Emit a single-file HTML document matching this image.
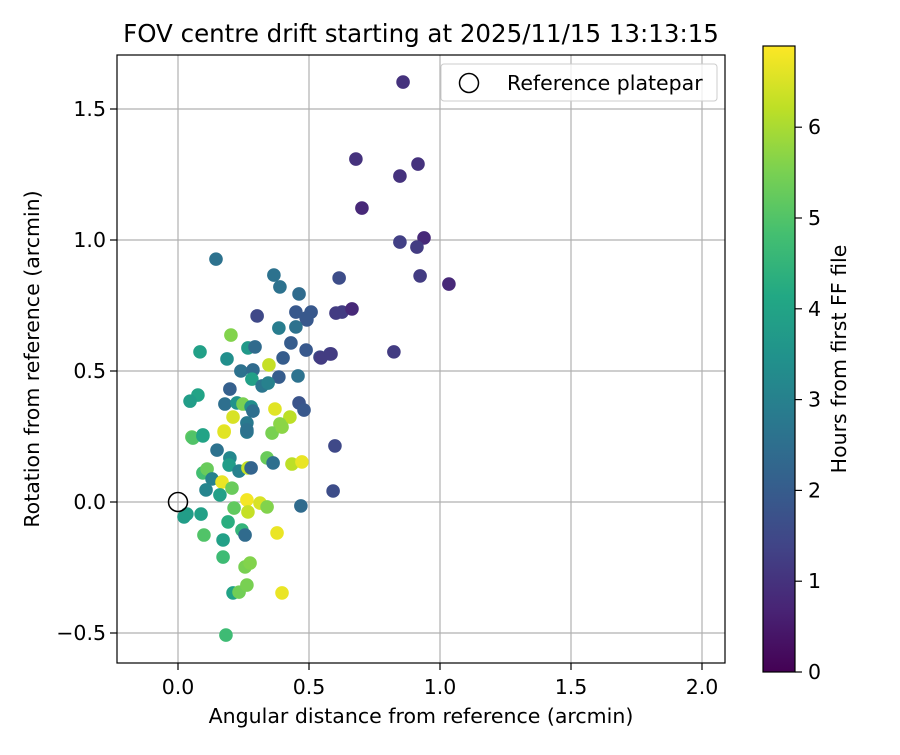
<!DOCTYPE html>
<html><head><meta charset="utf-8"><style>
body{margin:0;background:#fff;}
svg text{font-family:"DejaVu Sans","Liberation Sans",sans-serif;fill:#000;}
</style></head><body>
<svg id="chart" width="900" height="750" xmlns="http://www.w3.org/2000/svg">
<defs>
<linearGradient id="vir" x1="0" y1="1" x2="0" y2="0">
<stop offset="0" stop-color="#440154"/><stop offset="0.1" stop-color="#482475"/><stop offset="0.2" stop-color="#414487"/><stop offset="0.3" stop-color="#355f8d"/><stop offset="0.4" stop-color="#2a788e"/><stop offset="0.5" stop-color="#21918c"/><stop offset="0.6" stop-color="#22a884"/><stop offset="0.7" stop-color="#44bf70"/><stop offset="0.8" stop-color="#7ad151"/><stop offset="0.9" stop-color="#bddf26"/><stop offset="1" stop-color="#fde725"/>
</linearGradient>
<clipPath id="clip"><rect x="117" y="55" width="608" height="608"/></clipPath>
</defs>
<g id="grid"></g>
<g id="points" clip-path="url(#clip)"></g>
<rect x="117" y="55" width="608" height="608" fill="none" stroke="#000" stroke-width="1.2"/>
<g id="ticks"></g>
<text x="421" y="42" font-size="24.5" text-anchor="middle">FOV centre drift starting at 2025/11/15 13:13:15</text>
<text x="421" y="723" font-size="20.5" text-anchor="middle">Angular distance from reference (arcmin)</text>
<text transform="translate(39,359) rotate(-90)" font-size="20.5" text-anchor="middle">Rotation from reference (arcmin)</text>
<g>
<rect x="441" y="64" width="276" height="37" rx="3" fill="#fff" fill-opacity="0.8" stroke="#ccc"/>
<circle cx="469" cy="83" r="9.5" fill="none" stroke="#000" stroke-width="1.5"/>
<text x="507" y="90" font-size="20.5">Reference platepar</text>
</g>
<rect x="763" y="46" width="32" height="626" fill="url(#vir)" stroke="#000" stroke-width="1.2"/>
<g id="cbticks"></g>
<text transform="translate(846,359) rotate(-90)" font-size="20.5" text-anchor="middle">Hours from first FF file</text>
</svg>
<script>
// data: [angular distance, rotation, hours]
const px=[403,356,418,400,362,424,400,417,420,449,339,342,352,336,306,330,320,394,335,333,216,274,280,299,257,296,311,307,279,296,231,200,248,255,291,306,321,331,227,283,269,241,253,279,298,252,262,268,230,198,190,225,237,243,251,253,275,299,304,233,290,280,247,247,224,272,203,192,193,203,224,247,282,217,230,229,239,248,251,267,273,292,302,203,207,212,222,232,206,220,247,260,267,234,248,301,184,187,201,204,228,242,245,223,277,223,245,250,233,239,247,282,226];
const py=[82,159,164,176,208,238,242,247,276,284,278,312,309,313,318,354,357,352,446,491,259,275,287,294,316,312,312,320,328,327,335,352,348,347,343,350,358,354,359,358,365,371,370,377,376,379,386,383,389,395,401,404,403,404,407,411,409,403,410,417,417,424,423,432,431,433,435,437,438,436,432,430,427,450,458,465,471,468,468,458,463,464,462,473,469,479,482,488,490,495,500,503,507,508,512,506,517,514,514,535,522,530,535,540,533,557,567,563,593,592,585,593,635];
const hours=[1.0,1.0,1.0,1.0,0.8,0.8,1.3,1.2,1.2,0.8,1.6,1.2,0.8,1.2,1.9,1.4,1.6,1.2,1.5,1.6,2.6,2.6,2.6,2.4,1.5,1.9,1.9,1.9,2.9,2.6,5.6,3.9,3.7,2.4,2.0,1.9,1.2,1.2,3.4,2.0,6.3,2.6,2.4,2.0,2.6,3.9,2.7,3.0,2.1,4.0,3.8,2.5,3.5,5.5,3.4,2.5,6.6,1.8,1.9,6.5,6.2,5.7,2.8,2.8,6.7,5.5,4.0,5.2,5.0,4.0,6.6,2.6,5.7,2.6,3.2,3.8,3.0,6.3,2.2,5.3,2.5,6.2,6.7,4.8,5.3,3.0,6.7,5.3,3.1,3.9,6.8,6.5,5.6,5.2,6.3,2.4,3.8,3.8,3.9,5.0,4.3,4.5,2.4,3.9,6.7,4.7,5.5,5.6,4.0,5.4,5.5,6.7,4.7];
const xs=px.map(v=>+((v-178)/262).toFixed(3));
const ys=py.map(v=>+((502-v)/262).toFixed(3));
const xTicks=[0,0.5,1,1.5,2];
const xTickLabels=["0.0","0.5","1.0","1.5","2.0"];
const yTicks=[-0.5,0,0.5,1,1.5];
const yTickLabels=["\u22120.5","0.0","0.5","1.0","1.5"];
const cTicks=[0,1,2,3,4,5,6];
const NS="http://www.w3.org/2000/svg";
const X=v=>178+v*262, Y=v=>502-v*262, C=h=>672-h*90.8, HMAX=6.9;
const stops=[[68,1,84],[72,36,117],[65,68,135],[53,95,141],[42,120,142],[33,145,140],[34,168,132],[68,191,112],[122,209,81],[189,223,38],[253,231,37]];
function vir(t){t=Math.max(0,Math.min(1,t))*10;const i=Math.min(9,Math.floor(t)),f=t-i,a=stops[i],b=stops[i+1];return `rgb(${a.map((c,k)=>Math.round(c+(b[k]-c)*f)).join(',')})`;}
function mk(tag,attrs,parent){const e=document.createElementNS(NS,tag);for(const k in attrs)e.setAttribute(k,attrs[k]);parent.appendChild(e);return e;}
const grid=document.getElementById('grid'),ticks=document.getElementById('ticks'),pts=document.getElementById('points'),cb=document.getElementById('cbticks');
xTicks.forEach((v,i)=>{
 const g=mk('line',{x1:X(v),x2:X(v),y1:55,y2:663,stroke:'#b0b0b0','stroke-width':1.2},grid);
 
 
 mk('line',{x1:X(v),x2:X(v),y1:663,y2:670,stroke:'#000','stroke-width':1.2},ticks);
 const t=mk('text',{x:X(v),y:694,'font-size':20.5,'text-anchor':'middle'},ticks);t.textContent=xTickLabels[i];
 
 
});
yTicks.forEach((v,i)=>{
 const g=mk('line',{x1:117,x2:725,y1:Y(v),y2:Y(v),stroke:'#b0b0b0','stroke-width':1.2},grid);
 
 
 mk('line',{x1:110,x2:117,y1:Y(v),y2:Y(v),stroke:'#000','stroke-width':1.2},ticks);
 const t=mk('text',{x:106,y:Y(v)+7,'font-size':20.5,'text-anchor':'end'},ticks);t.textContent=yTickLabels[i];
 
 
});
xs.forEach((x,i)=>{
 const c=mk('circle',{cx:X(x),cy:Y(ys[i]),r:6.8,fill:vir(hours[i]/HMAX)},pts);
 
 
});
const ref=mk('circle',{cx:X(0),cy:Y(0),r:9.5,fill:'none',stroke:'#000','stroke-width':1.5},pts);


cTicks.forEach(h=>{
 mk('line',{x1:795,x2:802,y1:C(h),y2:C(h),stroke:'#000','stroke-width':1.2},cb);
 const t=mk('text',{x:808,y:C(h)+7,'font-size':20.5},cb);t.textContent=h;
 
 
});
</script>
</body></html>
